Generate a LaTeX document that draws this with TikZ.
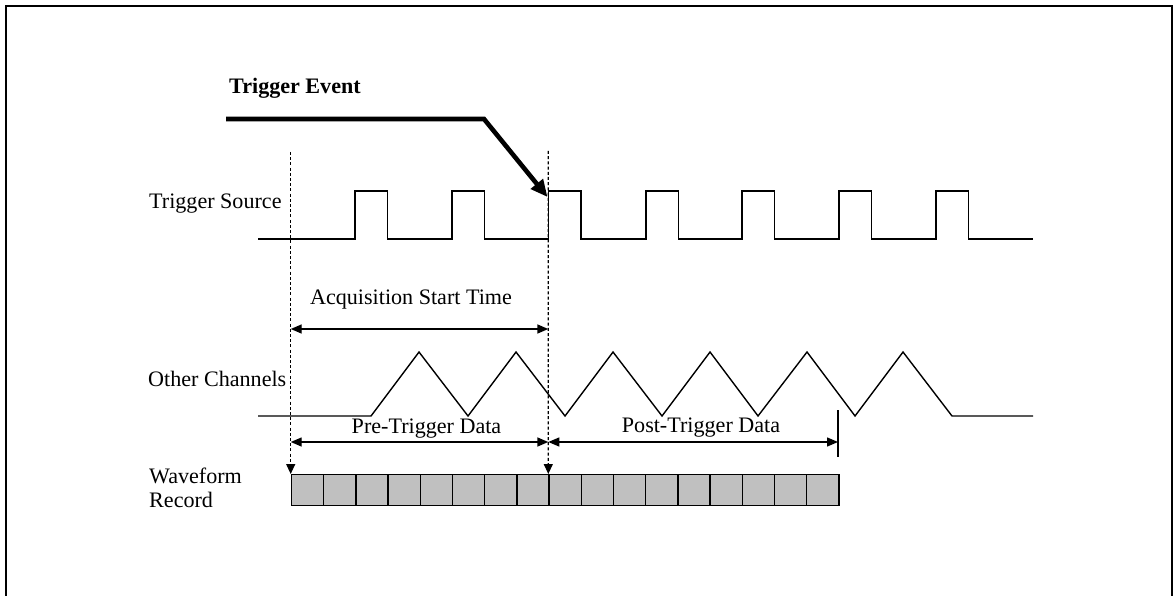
\documentclass[tikz,border=0pt]{standalone}
\usepackage{fontspec}
\setmainfont{Liberation Serif}
\usetikzlibrary{arrows.meta}
\definecolor{cellgray}{RGB}{192,192,192}
\begin{document}
\begin{tikzpicture}[x=1pt,y=-1pt,
  lbl/.style={font=\fontsize{22.1}{26}\selectfont, inner sep=0pt},
  wave/.style={line width=1.4pt, line join=miter},
  guide/.style={line width=1.2pt, dash pattern=on 3pt off 2.2pt},
  dim/.style={line width=1.4pt, {Triangle[length=11pt,width=9pt]}-{Triangle[length=11pt,width=9pt]}},
  cell/.style={draw, line width=1.4pt, fill=cellgray, minimum width=32.2pt, minimum height=31pt, inner sep=0pt, anchor=north west}
]
\useasboundingbox (0,0) rectangle (1175,596);
% frame
\draw[line width=2pt] (6,610) -- (6,6) -- (1172,6) -- (1172,610);

% labels
\node[lbl, anchor=base west, font=\bfseries\fontsize{22.1}{26}\selectfont] (te) at (229,94) {Trigger Event};
\node[lbl, anchor=base west] (ts) at (149,208) {Trigger Source};
\node[lbl, anchor=base west] (oc) at (148,386) {Other Channels};
\node[lbl, anchor=base west] (wf) at (149,483) {Waveform};
\node[lbl, anchor=base west] (rec) at (149,507) {Record};
\node[lbl, anchor=base] (ast) at (411,304) {Acquisition Start Time};
\node[lbl, anchor=base] (pre) at (426.5,433.3) {Pre-Trigger Data};
\node[lbl, anchor=base] (post) at (701,432.7) {Post-Trigger Data};

% waveform record cells
\foreach \i in {0,...,16} {
  \node[cell] (c\i) at (290.7+32.2*\i,474) {};
}

% key coordinates
\coordinate (gLtop) at (290.7,152);
\coordinate (gRtop) at (548.3,151);
\coordinate (gLbot) at (c0.north west);
\coordinate (gRbot) at (c8.north west);
\coordinate (acqL) at (290.7,329);
\coordinate (acqR) at (548.3,329);
\coordinate (preL) at (290.7,442);
\coordinate (preR) at (548.3,442);
\coordinate (postR) at (838,442);
\coordinate (tickT) at (838,410);
\coordinate (tickB) at (838,457);
\coordinate (teA) at (226,119);
\coordinate (teB) at (484,119);
\coordinate (teC) at (547.5,197);

% trigger event arrow
\draw[line width=4.6pt, line join=miter, -{Triangle[length=17pt,width=15pt]}] (teA) -- (teB) -- (teC);

% dashed guides
\draw[guide, -{Triangle[length=10pt,width=9pt]}] (gLtop) -- (gLbot);
\draw[guide, -{Triangle[length=10pt,width=9pt]}] (gRtop) -- (gRbot);

% trigger source square wave
\draw[wave] (258,239)
  foreach \r in {355,452,548.3,646,742,839,936} { -- (\r,239) -- (\r,191) -- (\r+32.5,191) -- (\r+32.5,239) }
  -- (1033,239);

% other channels triangle wave
\draw[wave] (258,416) -- (371,416) -- (419,352) -- (468,416) -- (516,352) -- (565,416)
  -- (613,352) -- (662,416) -- (710,352) -- (758,416) -- (807,352) -- (855,416)
  -- (903,352) -- (952,416) -- (1033,416);

% dimension arrows
\draw[dim] (acqL) -- (acqR);
\draw[dim] (preL) -- (preR);
\draw[dim] (preR) -- (postR);
\draw[line width=1.4pt] (tickT) -- (tickB);
\end{tikzpicture}
\end{document}
